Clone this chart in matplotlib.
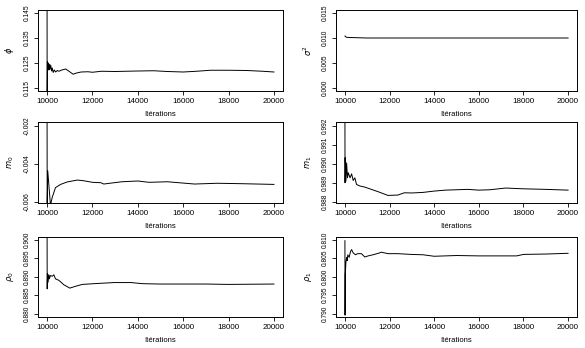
import numpy as np
import matplotlib.pyplot as plt
from matplotlib import font_manager

plt.rcParams['font.family'] = ['Liberation Sans', 'DejaVu Sans']
names = {f.name for f in font_manager.fontManager.ttflist}
narrow = 'Liberation Sans Narrow' if 'Liberation Sans Narrow' in names else 'Liberation Sans'

# running means (iteration, value)
phi_it = [10000, 10003, 10015, 10040, 10060, 10080, 10100, 10130, 10160, 10200, 10230, 10270,
          10320, 10380, 10450, 10520, 10650, 10820, 10950, 11150, 11300, 11500, 11800, 12000,
          12400, 13000, 13500, 14000, 14700, 15300, 16000, 16600, 17200, 18000, 18800, 19500, 20000]
phi_val = [0.150, 0.110, 0.1255, 0.1228, 0.1250, 0.1222, 0.1245, 0.1225, 0.1242, 0.1218, 0.1230, 0.1212,
           0.1222, 0.1214, 0.1220, 0.1217, 0.1222, 0.1226, 0.1218, 0.1205, 0.1210, 0.1214, 0.1215, 0.1213,
           0.1217, 0.1216, 0.1217, 0.1218, 0.1219, 0.1216, 0.1214, 0.1217, 0.1221, 0.1221, 0.1220, 0.1217, 0.1214]

sig_it = [10000, 10030, 10060, 10200, 11000, 20000]
sig_val = [0.0104, 0.0103, 0.01015, 0.0101, 0.0100, 0.0100]

m0_it = [10000, 10005, 10030, 10150, 10222, 10370, 10595, 10890, 11333, 11630, 12000, 12370,
         12500, 12960, 13300, 14000, 14500, 15300, 16500, 17500, 18500, 20000]
m0_val = [-0.0015, -0.0061, -0.00438, -0.0062, -0.00579, -0.00526, -0.00509, -0.00496, -0.00486, -0.0049,
          -0.00498, -0.0050, -0.00507, -0.0050, -0.00495, -0.00491, -0.00498, -0.00495, -0.00507, -0.00503,
          -0.00505, -0.00509]

m1_it = [10000, 10005, 10015, 10045, 10075, 10115, 10150, 10230, 10300, 10370, 10445, 10520, 10665,
         10890, 11185, 11480, 11930, 12370, 12665, 13000, 13500, 14000, 14500, 15500, 16000, 16500,
         17200, 18000, 19000, 20000]
m1_val = [0.9925, 0.98900, 0.99032, 0.98909, 0.99005, 0.98926, 0.98953, 0.98926, 0.98947, 0.98912,
          0.98926, 0.98891, 0.98883, 0.98877, 0.98865, 0.98853, 0.98833, 0.98835, 0.98847, 0.98846,
          0.98849, 0.98856, 0.98861, 0.98865, 0.98861, 0.98863, 0.98872, 0.98868, 0.98865, 0.98861]

r0_it = [10000, 10005, 10015, 10045, 10075, 10100, 10150, 10230, 10300, 10370, 10520, 10740, 11000,
         11260, 11550, 12070, 12960, 13700, 14200, 15000, 16000, 17000, 18000, 20000]
r0_val = [0.905, 0.8867, 0.8908, 0.8885, 0.8905, 0.8894, 0.8903, 0.8901, 0.8905, 0.8894, 0.8890,
          0.8878, 0.8869, 0.8874, 0.8879, 0.8881, 0.8884, 0.8884, 0.8881, 0.8880, 0.8880, 0.8880,
          0.8879, 0.8880]

r1_it = [10000, 10005, 10015, 10045, 10075, 10100, 10130, 10190, 10250, 10300, 10370, 10475, 10560,
         10740, 10890, 11040, 11260, 11550, 11630, 11930, 12370, 12960, 13500, 14000, 15000, 16000,
         17000, 17700, 18000, 19000, 20000]
r1_val = [0.8097, 0.7896, 0.8005, 0.8039, 0.8052, 0.8043, 0.8059, 0.8052, 0.8068, 0.8073, 0.8064,
          0.8059, 0.8062, 0.8062, 0.8053, 0.8056, 0.8059, 0.8064, 0.8066, 0.8062, 0.8062, 0.8060,
          0.8059, 0.8055, 0.8057, 0.8056, 0.8056, 0.8056, 0.8060, 0.8061, 0.8063]

panels = [
    (phi_it, phi_val, r'$\phi$', (0.1138, 0.1462), [0.115, 0.125, 0.135, 0.145]),
    (sig_it, sig_val, r'$\sigma^2$', (-0.0006, 0.0156), [0.000, 0.005, 0.010, 0.015]),
    (m0_it, m0_val, r'$m_0$', (-0.00607, -0.00180), [-0.006, -0.004, -0.002]),
    (m1_it, m1_val, r'$m_1$', (0.98793, 0.99221), [0.988, 0.989, 0.990, 0.991, 0.992]),
    (r0_it, r0_val, r'$\rho_0$', (0.8791, 0.9007), [0.880, 0.885, 0.890, 0.895, 0.900]),
    (r1_it, r1_val, r'$\rho_1$', (0.7891, 0.8107), [0.790, 0.795, 0.800, 0.805, 0.810]),
]

W, H = 585, 348
fig = plt.figure(figsize=(W / 100, H / 100), dpi=100)
lefts = [38, 336]
widths = [245, 241]
tops = [10, 122, 237]
bottoms = [91, 203, 317]

for k, (it, val, lab, ylim, yt) in enumerate(panels):
    r, c = divmod(k, 2)
    ax = fig.add_axes([lefts[c] / W, 1 - bottoms[r] / H, widths[c] / W, (bottoms[r] - tops[r]) / H])
    ax.plot(it, val, color='black', lw=0.7)
    ax.set_xlim(9600, 20400)
    ax.set_ylim(*ylim)
    ax.set_xticks(np.arange(10000, 20001, 2000))
    ax.set_yticks(yt)
    ax.set_yticklabels(['%.3f' % v for v in yt], rotation=90, va='center',
                       family=narrow, fontsize=4.8)
    ax.tick_params(axis='x', labelsize=5.8)
    ax.tick_params(length=3, width=0.6, pad=2, colors='black')
    for s in ax.spines.values():
        s.set_linewidth(0.7)
    ax.set_xlabel('Itérations', fontsize=5.5, labelpad=4)
    ax.set_ylabel(lab, fontsize=6, labelpad=6)

fig.savefig('out.png', dpi=100)
